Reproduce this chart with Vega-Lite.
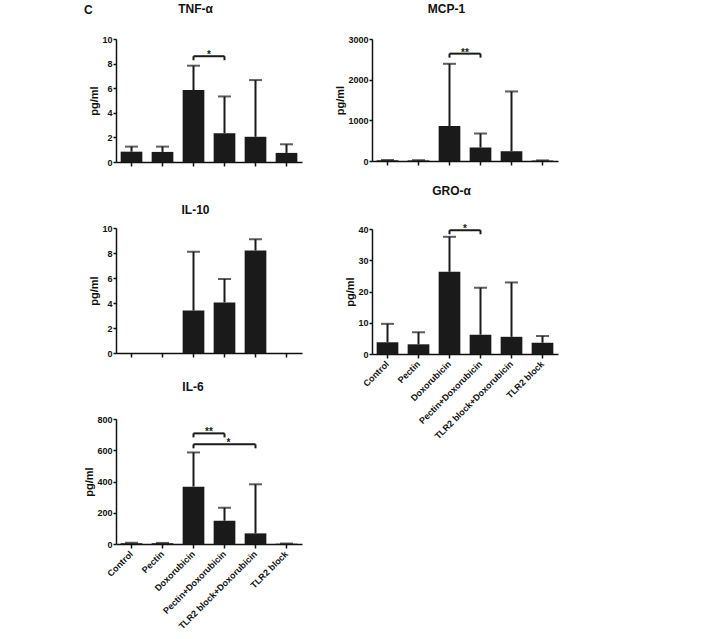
{
  "$schema": "https://vega.github.io/schema/vega-lite/v6.json",
  "padding": {"left": 83, "top": 3, "right": 5, "bottom": 2},
  "background": "white",
  "title": {"text": "C", "anchor": "start", "fontSize": 12, "fontWeight": "bold", "offset": -14, "frame": "bounds"},
  "datasets": {
    "bars": [
      {"panel": "TNF", "group": "Control", "mean": 0.84, "upper": 1.25},
      {"panel": "TNF", "group": "Pectin", "mean": 0.82, "upper": 1.25},
      {"panel": "TNF", "group": "Doxorubicin", "mean": 5.85, "upper": 7.83},
      {"panel": "TNF", "group": "Pectin+Doxorubicin", "mean": 2.34, "upper": 5.33},
      {"panel": "TNF", "group": "TLR2 block+Doxorubicin", "mean": 2.05, "upper": 6.66},
      {"panel": "TNF", "group": "TLR2 block", "mean": 0.74, "upper": 1.44},
      {"panel": "MCP", "group": "Control", "mean": 18, "upper": 25},
      {"panel": "MCP", "group": "Pectin", "mean": 15, "upper": 20},
      {"panel": "MCP", "group": "Doxorubicin", "mean": 860, "upper": 2390},
      {"panel": "MCP", "group": "Pectin+Doxorubicin", "mean": 330, "upper": 676},
      {"panel": "MCP", "group": "TLR2 block+Doxorubicin", "mean": 240, "upper": 1710},
      {"panel": "MCP", "group": "TLR2 block", "mean": 12, "upper": 15},
      {"panel": "IL10", "group": "Control", "mean": 0, "upper": 0},
      {"panel": "IL10", "group": "Pectin", "mean": 0, "upper": 0},
      {"panel": "IL10", "group": "Doxorubicin", "mean": 3.4, "upper": 8.1},
      {"panel": "IL10", "group": "Pectin+Doxorubicin", "mean": 4.05, "upper": 5.92},
      {"panel": "IL10", "group": "TLR2 block+Doxorubicin", "mean": 8.2, "upper": 9.1},
      {"panel": "IL10", "group": "TLR2 block", "mean": 0, "upper": 0},
      {"panel": "GRO", "group": "Control", "mean": 3.75, "upper": 9.65},
      {"panel": "GRO", "group": "Pectin", "mean": 3.1, "upper": 6.95},
      {"panel": "GRO", "group": "Doxorubicin", "mean": 26.3, "upper": 37.5},
      {"panel": "GRO", "group": "Pectin+Doxorubicin", "mean": 6.2, "upper": 21.2},
      {"panel": "GRO", "group": "TLR2 block+Doxorubicin", "mean": 5.5, "upper": 22.9},
      {"panel": "GRO", "group": "TLR2 block", "mean": 3.6, "upper": 5.75},
      {"panel": "IL6", "group": "Control", "mean": 5, "upper": 8},
      {"panel": "IL6", "group": "Pectin", "mean": 5, "upper": 7},
      {"panel": "IL6", "group": "Doxorubicin", "mean": 367, "upper": 586},
      {"panel": "IL6", "group": "Pectin+Doxorubicin", "mean": 149, "upper": 232},
      {"panel": "IL6", "group": "TLR2 block+Doxorubicin", "mean": 68, "upper": 382},
      {"panel": "IL6", "group": "TLR2 block", "mean": 2, "upper": 3}
    ],
    "sig": [
      {"panel": "TNF", "from": "Doxorubicin", "to": "Pectin+Doxorubicin", "level": 8.6, "label": "*", "pos": "between", "mid": "Doxorubicin"},
      {"panel": "MCP", "from": "Doxorubicin", "to": "Pectin+Doxorubicin", "level": 2640, "label": "**", "pos": "between", "mid": "Doxorubicin"},
      {"panel": "GRO", "from": "Doxorubicin", "to": "Pectin+Doxorubicin", "level": 39.6, "label": "*", "pos": "between", "mid": "Doxorubicin"},
      {"panel": "IL6", "from": "Doxorubicin", "to": "Pectin+Doxorubicin", "level": 708, "label": "**", "pos": "between", "mid": "Doxorubicin"},
      {"panel": "IL6", "from": "Doxorubicin", "to": "TLR2 block+Doxorubicin", "level": 638, "label": "*", "pos": "on", "mid": "Pectin+Doxorubicin"}
    ]
  },
  "config": {
    "font": "Liberation Sans",
    "view": {"stroke": null},
    "axis": {
      "grid": false,
      "labelOverlap": false,
      "domainColor": "#111111", "domainWidth": 1.5,
      "tickColor": "#111111", "tickWidth": 1.5,
      "labelFont": "Liberation Sans", "labelFontWeight": "bold", "labelColor": "#111111",
      "titleFont": "Liberation Sans", "titleFontWeight": "bold", "titleColor": "#111111", "titleFontSize": 11
    },
    "axisY": {"tickSize": 3, "labelPadding": 1, "labelFontSize": 9, "titlePadding": 2, "format": "d", "labelOverlap": false, "tickCount": 10},
    "axisX": {"tickSize": 4, "labelFontSize": 9, "labelAngle": -45, "labelAlign": "right", "labelBaseline": "middle", "labelPadding": 4},
    "title": {"font": "Liberation Sans", "fontSize": 12, "fontWeight": "bold", "color": "#111111", "anchor": "middle", "frame": "bounds", "lineHeight": 14}
  },
  "spacing": 32,
  "hconcat": [
    {
      "spacing": 23,
      "vconcat": [
        {
          "width": 186, "height": 123,
          "title": {"text": "TNF-α", "offset": 19},
          "layer": [
            {"data": {"name": "bars"}, "transform": [{"filter": "datum.panel === 'TNF'"}], "mark": {"type": "bar", "color": "#1a1a1a"},
             "encoding": {
               "x": {"field": "group", "type": "nominal", "title": null, "sort": null, "scale": {"domain": ["Control", "Pectin", "Doxorubicin", "Pectin+Doxorubicin", "TLR2 block+Doxorubicin", "TLR2 block"], "paddingInner": 0.3, "paddingOuter": 0.15}, "axis": {"labels": false}},
               "y": {"field": "mean", "type": "quantitative", "title": "pg/ml", "scale": {"domain": [0, 10], "nice": false}, "axis": {"values": [0, 2, 4, 6, 8, 10], "tickCount": 10}}}},
            {"data": {"name": "bars"}, "transform": [{"filter": "datum.panel === 'TNF'"}], "mark": {"type": "rule", "color": "#1a1a1a", "strokeWidth": 2},
             "encoding": {"x": {"field": "group", "type": "nominal", "title": null, "sort": null}, "y": {"field": "mean", "type": "quantitative", "title": "pg/ml"}, "y2": {"field": "upper"}}},
            {"data": {"name": "bars"}, "transform": [{"filter": "datum.panel === 'TNF'"}], "mark": {"type": "tick", "color": "#1a1a1a", "size": 13, "thickness": 2},
             "encoding": {"x": {"field": "group", "type": "nominal", "title": null, "sort": null}, "y": {"field": "upper", "type": "quantitative", "title": "pg/ml"}}},
            {"data": {"name": "sig"}, "transform": [{"filter": "datum.panel === 'TNF'"}], "mark": {"type": "rule", "color": "#1a1a1a", "strokeWidth": 2},
             "encoding": {"x": {"field": "from", "type": "nominal", "title": null, "sort": null}, "x2": {"field": "to"}, "y": {"field": "level", "type": "quantitative", "title": "pg/ml"}}},
            {"data": {"name": "sig"}, "transform": [{"filter": "datum.panel === 'TNF'"}], "mark": {"type": "rule", "color": "#1a1a1a", "strokeWidth": 2, "y2Offset": 4},
             "encoding": {"x": {"field": "from", "type": "nominal", "title": null, "sort": null}, "y": {"field": "level", "type": "quantitative", "title": "pg/ml"}, "y2": {"field": "level"}}},
            {"data": {"name": "sig"}, "transform": [{"filter": "datum.panel === 'TNF'"}], "mark": {"type": "rule", "color": "#1a1a1a", "strokeWidth": 2, "y2Offset": 4},
             "encoding": {"x": {"field": "to", "type": "nominal", "title": null, "sort": null}, "y": {"field": "level", "type": "quantitative", "title": "pg/ml"}, "y2": {"field": "level"}}},
            {"data": {"name": "sig"}, "transform": [{"filter": "datum.panel === 'TNF' && datum.pos === 'between'"}], "mark": {"type": "text", "color": "#1a1a1a", "fontSize": 10, "fontWeight": "bold", "dx": 15.5, "dy": 2, "baseline": "alphabetic"},
             "encoding": {"x": {"field": "mid", "type": "nominal", "title": null, "sort": null}, "y": {"field": "level", "type": "quantitative", "title": "pg/ml"}, "text": {"field": "label"}}}
          ]
        },
        {
          "width": 186, "height": 125,
          "title": {"text": ["", "IL-10"], "offset": 7},
          "layer": [
            {"data": {"name": "bars"}, "transform": [{"filter": "datum.panel === 'IL10'"}], "mark": {"type": "bar", "color": "#1a1a1a"},
             "encoding": {
               "x": {"field": "group", "type": "nominal", "title": null, "sort": null, "scale": {"domain": ["Control", "Pectin", "Doxorubicin", "Pectin+Doxorubicin", "TLR2 block+Doxorubicin", "TLR2 block"], "paddingInner": 0.3, "paddingOuter": 0.15}, "axis": {"labels": false}},
               "y": {"field": "mean", "type": "quantitative", "title": "pg/ml", "scale": {"domain": [0, 10], "nice": false}, "axis": {"values": [0, 2, 4, 6, 8, 10], "tickCount": 10}}}},
            {"data": {"name": "bars"}, "transform": [{"filter": "datum.panel === 'IL10' && datum.upper > 0"}], "mark": {"type": "rule", "color": "#1a1a1a", "strokeWidth": 2},
             "encoding": {"x": {"field": "group", "type": "nominal", "title": null, "sort": null}, "y": {"field": "mean", "type": "quantitative", "title": "pg/ml"}, "y2": {"field": "upper"}}},
            {"data": {"name": "bars"}, "transform": [{"filter": "datum.panel === 'IL10' && datum.upper > 0"}], "mark": {"type": "tick", "color": "#1a1a1a", "size": 13, "thickness": 2},
             "encoding": {"x": {"field": "group", "type": "nominal", "title": null, "sort": null}, "y": {"field": "upper", "type": "quantitative", "title": "pg/ml"}}}
          ]
        },
        {
          "width": 186, "height": 125,
          "title": {"text": "IL-6", "offset": 21},
          "layer": [
            {"data": {"name": "bars"}, "transform": [{"filter": "datum.panel === 'IL6'"}], "mark": {"type": "bar", "color": "#1a1a1a"},
             "encoding": {
               "x": {"field": "group", "type": "nominal", "title": null, "sort": null, "scale": {"domain": ["Control", "Pectin", "Doxorubicin", "Pectin+Doxorubicin", "TLR2 block+Doxorubicin", "TLR2 block"], "paddingInner": 0.3, "paddingOuter": 0.15}, "axis": {"labels": true}},
               "y": {"field": "mean", "type": "quantitative", "title": "pg/ml", "scale": {"domain": [0, 800], "nice": false}, "axis": {"values": [0, 200, 400, 600, 800], "tickCount": 10}}}},
            {"data": {"name": "bars"}, "transform": [{"filter": "datum.panel === 'IL6'"}], "mark": {"type": "rule", "color": "#1a1a1a", "strokeWidth": 2},
             "encoding": {"x": {"field": "group", "type": "nominal", "title": null, "sort": null}, "y": {"field": "mean", "type": "quantitative", "title": "pg/ml"}, "y2": {"field": "upper"}}},
            {"data": {"name": "bars"}, "transform": [{"filter": "datum.panel === 'IL6'"}], "mark": {"type": "tick", "color": "#1a1a1a", "size": 13, "thickness": 2},
             "encoding": {"x": {"field": "group", "type": "nominal", "title": null, "sort": null}, "y": {"field": "upper", "type": "quantitative", "title": "pg/ml"}}},
            {"data": {"name": "sig"}, "transform": [{"filter": "datum.panel === 'IL6'"}], "mark": {"type": "rule", "color": "#1a1a1a", "strokeWidth": 2},
             "encoding": {"x": {"field": "from", "type": "nominal", "title": null, "sort": null}, "x2": {"field": "to"}, "y": {"field": "level", "type": "quantitative", "title": "pg/ml"}}},
            {"data": {"name": "sig"}, "transform": [{"filter": "datum.panel === 'IL6'"}], "mark": {"type": "rule", "color": "#1a1a1a", "strokeWidth": 2, "y2Offset": 4},
             "encoding": {"x": {"field": "from", "type": "nominal", "title": null, "sort": null}, "y": {"field": "level", "type": "quantitative", "title": "pg/ml"}, "y2": {"field": "level"}}},
            {"data": {"name": "sig"}, "transform": [{"filter": "datum.panel === 'IL6'"}], "mark": {"type": "rule", "color": "#1a1a1a", "strokeWidth": 2, "y2Offset": 4},
             "encoding": {"x": {"field": "to", "type": "nominal", "title": null, "sort": null}, "y": {"field": "level", "type": "quantitative", "title": "pg/ml"}, "y2": {"field": "level"}}},
            {"data": {"name": "sig"}, "transform": [{"filter": "datum.panel === 'IL6' && datum.pos === 'between'"}], "mark": {"type": "text", "color": "#1a1a1a", "fontSize": 10, "fontWeight": "bold", "dx": 15.5, "dy": 2, "baseline": "alphabetic"},
             "encoding": {"x": {"field": "mid", "type": "nominal", "title": null, "sort": null}, "y": {"field": "level", "type": "quantitative", "title": "pg/ml"}, "text": {"field": "label"}}},
            {"data": {"name": "sig"}, "transform": [{"filter": "datum.panel === 'IL6' && datum.pos === 'on'"}], "mark": {"type": "text", "color": "#1a1a1a", "fontSize": 10, "fontWeight": "bold", "dx": 4, "dy": 2, "baseline": "alphabetic"},
             "encoding": {"x": {"field": "mid", "type": "nominal", "title": null, "sort": null}, "y": {"field": "level", "type": "quantitative", "title": "pg/ml"}, "text": {"field": "label"}}}
          ]
        }
      ]
    },
    {
      "spacing": 19,
      "vconcat": [
        {
          "width": 186, "height": 122,
          "title": {"text": "MCP-1", "offset": 19},
          "layer": [
            {"data": {"name": "bars"}, "transform": [{"filter": "datum.panel === 'MCP'"}], "mark": {"type": "bar", "color": "#1a1a1a"},
             "encoding": {
               "x": {"field": "group", "type": "nominal", "title": null, "sort": null, "scale": {"domain": ["Control", "Pectin", "Doxorubicin", "Pectin+Doxorubicin", "TLR2 block+Doxorubicin", "TLR2 block"], "paddingInner": 0.3, "paddingOuter": 0.15}, "axis": {"labels": false}},
               "y": {"field": "mean", "type": "quantitative", "title": "pg/ml", "scale": {"domain": [0, 3000], "nice": false}, "axis": {"values": [0, 1000, 2000, 3000], "tickCount": 10}}}},
            {"data": {"name": "bars"}, "transform": [{"filter": "datum.panel === 'MCP'"}], "mark": {"type": "rule", "color": "#1a1a1a", "strokeWidth": 2},
             "encoding": {"x": {"field": "group", "type": "nominal", "title": null, "sort": null}, "y": {"field": "mean", "type": "quantitative", "title": "pg/ml"}, "y2": {"field": "upper"}}},
            {"data": {"name": "bars"}, "transform": [{"filter": "datum.panel === 'MCP'"}], "mark": {"type": "tick", "color": "#1a1a1a", "size": 13, "thickness": 2},
             "encoding": {"x": {"field": "group", "type": "nominal", "title": null, "sort": null}, "y": {"field": "upper", "type": "quantitative", "title": "pg/ml"}}},
            {"data": {"name": "sig"}, "transform": [{"filter": "datum.panel === 'MCP'"}], "mark": {"type": "rule", "color": "#1a1a1a", "strokeWidth": 2},
             "encoding": {"x": {"field": "from", "type": "nominal", "title": null, "sort": null}, "x2": {"field": "to"}, "y": {"field": "level", "type": "quantitative", "title": "pg/ml"}}},
            {"data": {"name": "sig"}, "transform": [{"filter": "datum.panel === 'MCP'"}], "mark": {"type": "rule", "color": "#1a1a1a", "strokeWidth": 2, "y2Offset": 4},
             "encoding": {"x": {"field": "from", "type": "nominal", "title": null, "sort": null}, "y": {"field": "level", "type": "quantitative", "title": "pg/ml"}, "y2": {"field": "level"}}},
            {"data": {"name": "sig"}, "transform": [{"filter": "datum.panel === 'MCP'"}], "mark": {"type": "rule", "color": "#1a1a1a", "strokeWidth": 2, "y2Offset": 4},
             "encoding": {"x": {"field": "to", "type": "nominal", "title": null, "sort": null}, "y": {"field": "level", "type": "quantitative", "title": "pg/ml"}, "y2": {"field": "level"}}},
            {"data": {"name": "sig"}, "transform": [{"filter": "datum.panel === 'MCP' && datum.pos === 'between'"}], "mark": {"type": "text", "color": "#1a1a1a", "fontSize": 10, "fontWeight": "bold", "dx": 15.5, "dy": 2, "baseline": "alphabetic"},
             "encoding": {"x": {"field": "mid", "type": "nominal", "title": null, "sort": null}, "y": {"field": "level", "type": "quantitative", "title": "pg/ml"}, "text": {"field": "label"}}}
          ]
        },
        {
          "width": 186, "height": 125,
          "title": {"text": "GRO-α", "offset": 26},
          "layer": [
            {"data": {"name": "bars"}, "transform": [{"filter": "datum.panel === 'GRO'"}], "mark": {"type": "bar", "color": "#1a1a1a"},
             "encoding": {
               "x": {"field": "group", "type": "nominal", "title": null, "sort": null, "scale": {"domain": ["Control", "Pectin", "Doxorubicin", "Pectin+Doxorubicin", "TLR2 block+Doxorubicin", "TLR2 block"], "paddingInner": 0.3, "paddingOuter": 0.15}, "axis": {"labels": true}},
               "y": {"field": "mean", "type": "quantitative", "title": "pg/ml", "scale": {"domain": [0, 40], "nice": false}, "axis": {"values": [0, 10, 20, 30, 40], "tickCount": 10}}}},
            {"data": {"name": "bars"}, "transform": [{"filter": "datum.panel === 'GRO'"}], "mark": {"type": "rule", "color": "#1a1a1a", "strokeWidth": 2},
             "encoding": {"x": {"field": "group", "type": "nominal", "title": null, "sort": null}, "y": {"field": "mean", "type": "quantitative", "title": "pg/ml"}, "y2": {"field": "upper"}}},
            {"data": {"name": "bars"}, "transform": [{"filter": "datum.panel === 'GRO'"}], "mark": {"type": "tick", "color": "#1a1a1a", "size": 13, "thickness": 2},
             "encoding": {"x": {"field": "group", "type": "nominal", "title": null, "sort": null}, "y": {"field": "upper", "type": "quantitative", "title": "pg/ml"}}},
            {"data": {"name": "sig"}, "transform": [{"filter": "datum.panel === 'GRO'"}], "mark": {"type": "rule", "color": "#1a1a1a", "strokeWidth": 2},
             "encoding": {"x": {"field": "from", "type": "nominal", "title": null, "sort": null}, "x2": {"field": "to"}, "y": {"field": "level", "type": "quantitative", "title": "pg/ml"}}},
            {"data": {"name": "sig"}, "transform": [{"filter": "datum.panel === 'GRO'"}], "mark": {"type": "rule", "color": "#1a1a1a", "strokeWidth": 2, "y2Offset": 4},
             "encoding": {"x": {"field": "from", "type": "nominal", "title": null, "sort": null}, "y": {"field": "level", "type": "quantitative", "title": "pg/ml"}, "y2": {"field": "level"}}},
            {"data": {"name": "sig"}, "transform": [{"filter": "datum.panel === 'GRO'"}], "mark": {"type": "rule", "color": "#1a1a1a", "strokeWidth": 2, "y2Offset": 4},
             "encoding": {"x": {"field": "to", "type": "nominal", "title": null, "sort": null}, "y": {"field": "level", "type": "quantitative", "title": "pg/ml"}, "y2": {"field": "level"}}},
            {"data": {"name": "sig"}, "transform": [{"filter": "datum.panel === 'GRO' && datum.pos === 'between'"}], "mark": {"type": "text", "color": "#1a1a1a", "fontSize": 10, "fontWeight": "bold", "dx": 15.5, "dy": 2, "baseline": "alphabetic"},
             "encoding": {"x": {"field": "mid", "type": "nominal", "title": null, "sort": null}, "y": {"field": "level", "type": "quantitative", "title": "pg/ml"}, "text": {"field": "label"}}}
          ]
        }
      ]
    }
  ]
}
